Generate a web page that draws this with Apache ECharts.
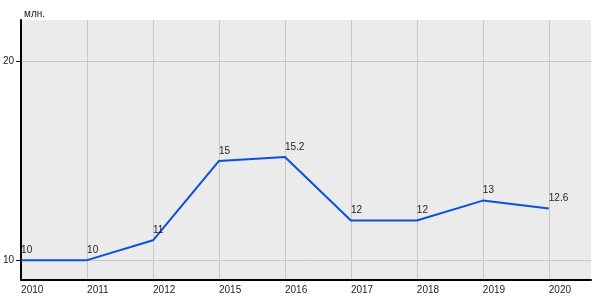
<!DOCTYPE html>
<html><head><meta charset="utf-8">
<script src="https://cdn.jsdelivr.net/npm/echarts@6/dist/echarts.min.js"></script>
<style>html,body{margin:0;padding:0;background:#fff}#c{width:600px;height:300px}</style>
</head><body><div id="c"></div>
<script>
const years = ['2010','2011','2012','2015','2016','2017','2018','2019','2020'];
const values = [10, 10, 11, 15, 15.2, 12, 12, 13, 12.6];
const yTicks = [10, 20];
const unit = 'млн.';

const xIdx = years.map((_, i) => i);
const chart = echarts.init(document.getElementById('c'), null, {renderer: 'canvas'});
const font = 'Liberation Sans, Arial, sans-serif';
chart.setOption({
  animation: false,
  title: {text: unit, left: 19, top: 4, textStyle: {fontSize: 10, fontWeight: 'normal', color: '#222', fontFamily: font}},
  grid: {left: 20, right: 9, top: 20, bottom: 20, show: true, backgroundColor: '#ebebeb', borderWidth: 0},
  xAxis: {
    type: 'value', min: 0, max: 8.64, interval: 1,
    axisLine: {show: true, lineStyle: {color: '#000', width: 2}},
    axisTick: {show: false, customValues: xIdx},
    axisLabel: {customValues: xIdx, formatter: v => years[v] ?? '', align: 'left', margin: 5, fontSize: 10, color: '#222', fontFamily: font},
    splitLine: {show: true, lineStyle: {color: '#c8c8c8', width: 1}}
  },
  yAxis: {
    type: 'value', min: 9, max: 22.1,
    axisLine: {show: true, lineStyle: {color: '#000', width: 2}},
    axisTick: {show: true, length: 5, customValues: yTicks, lineStyle: {color: '#000'}},
    axisLabel: {customValues: yTicks, margin: 7, fontSize: 10, color: '#222', fontFamily: font, padding: [0, 0, 3, 0]},
    splitLine: {show: true, lineStyle: {color: '#c8c8c8', width: 1}}
  },
  series: [{
    type: 'line',
    data: xIdx.map(i => [i, values[i]]),
    symbol: 'circle', symbolSize: 2, showSymbol: true,
    itemStyle: {color: 'rgba(0,0,0,0)'},
    lineStyle: {color: '#0a4fe0', width: 2},
    label: {show: true, position: 'top', align: 'left', distance: 4, fontSize: 10, color: '#222', fontFamily: font, formatter: p => String(values[p.dataIndex])}
  }]
});
</script></body></html>
